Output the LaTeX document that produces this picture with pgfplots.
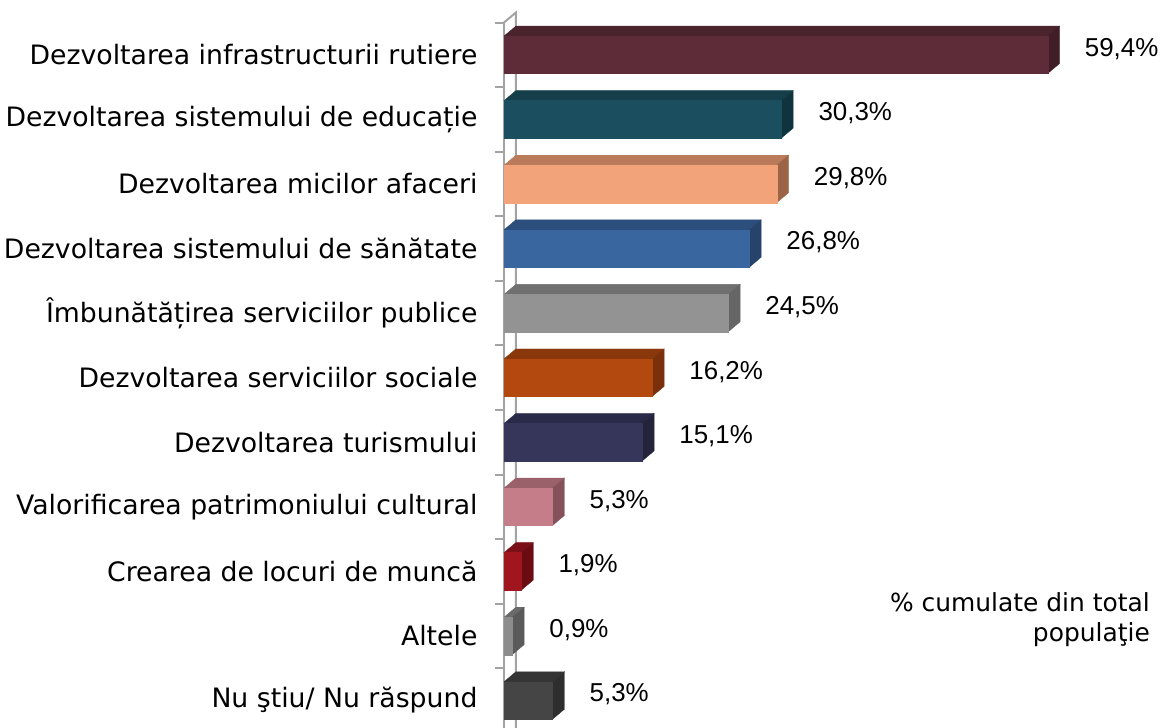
\documentclass[border=0pt]{standalone}
\usepackage{pgfplots}
\pgfplotsset{compat=1.18}
\usepackage{pgfplotstable}
\usepackage{fontspec}
\setmainfont{DejaVu Sans}
\newfontfamily\arial{Liberation Sans}

\definecolor{f1}{HTML}{5E2C38}\definecolor{t1}{HTML}{4A232D}\definecolor{s1}{HTML}{411D27}
\definecolor{f2}{HTML}{1B4F5F}\definecolor{t2}{HTML}{143E4A}\definecolor{s2}{HTML}{10343E}
\definecolor{f3}{HTML}{F2A379}\definecolor{t3}{HTML}{B97B5A}\definecolor{s3}{HTML}{9C6446}
\definecolor{f4}{HTML}{3A66A0}\definecolor{t4}{HTML}{2C4E7C}\definecolor{s4}{HTML}{27436B}
\definecolor{f5}{HTML}{939393}\definecolor{t5}{HTML}{707070}\definecolor{s5}{HTML}{656565}
\definecolor{f6}{HTML}{B4490F}\definecolor{t6}{HTML}{8A380B}\definecolor{s6}{HTML}{7A300A}
\definecolor{f7}{HTML}{353659}\definecolor{t7}{HTML}{292A47}\definecolor{s7}{HTML}{23243C}
\definecolor{f8}{HTML}{C47D89}\definecolor{t8}{HTML}{9A616B}\definecolor{s8}{HTML}{85525C}
\definecolor{f9}{HTML}{A1151F}\definecolor{t9}{HTML}{7C1018}\definecolor{s9}{HTML}{6A0C12}
\definecolor{f10}{HTML}{8C8C8C}\definecolor{t10}{HTML}{6A6A6A}\definecolor{s10}{HTML}{5A5A5A}
\definecolor{f11}{HTML}{454545}\definecolor{t11}{HTML}{353535}\definecolor{s11}{HTML}{2E2E2E}
\definecolor{wall}{HTML}{A3A3A3}

\pgfplotstableread{
i v lab
0 59.4 59,4
1 30.3 30,3
2 29.8 29,8
3 26.8 26,8
4 24.5 24,5
5 16.2 16,2
6 15.1 15,1
7 5.3 5,3
8 1.9 1,9
9 0.9 0,9
10 5.3 5,3
}\datatable

\def\hh{0.29}
\def\dx{1.3}
\def\dy{0.155}
\newcommand\tdbar[5]{%
 \pgfmathsetmacro\ya{#1-\hh}%
 \pgfmathsetmacro\yb{#1+\hh}%
 \pgfmathsetmacro\yc{#1-\hh-\dy}%
 \pgfmathsetmacro\yd{#1+\hh-\dy}%
 \pgfmathsetmacro\xa{#2+\dx}%
 \edef\doit{%
  \noexpand\addplot[fill=#4,draw=#4,line width=0.3bp] coordinates {(0,\ya) (#2,\ya) (\xa,\yc) (\dx,\yc)} -- cycle;
  \noexpand\addplot[fill=#5,draw=#5,line width=0.3bp] coordinates {(#2,\ya) (\xa,\yc) (\xa,\yd) (#2,\yb)} -- cycle;
  \noexpand\addplot[fill=#3,draw=#3,line width=0.3bp] coordinates {(0,\ya) (#2,\ya) (#2,\yb) (0,\yb)} -- cycle;
 }\doit}

\begin{document}
\begin{tikzpicture}
\begin{axis}[
  x={(9.153bp,0bp)}, y={(0bp,-64.57bp)},
  xmin=0, xmax=60, ymin=-0.5, ymax=10.5,
  clip=false,
  axis x line=none,
  axis y line*=left,
  y axis line style={draw=wall, line width=2bp},
  ytick={0,...,10},
  yticklabels={Dezvoltarea infrastructurii rutiere,
    Dezvoltarea sistemului de educație,
    Dezvoltarea micilor afaceri,
    Dezvoltarea sistemului de sănătate,
    Îmbunătățirea serviciilor publice,
    Dezvoltarea serviciilor sociale,
    Dezvoltarea turismului,
    Valorificarea patrimoniului cultural,
    Crearea de locuri de muncă,
    Altele,
    Nu ştiu/ Nu răspund},
  minor ytick={-0.5,0.5,...,10.5},
  major tick length=0pt,
  minor tick length=9bp,
  tick align=outside,
  tick style={draw=wall, line width=2bp},
  yticklabel style={font=\fontsize{26.8}{30}\selectfont, anchor=east, xshift=-23bp},
]
\addplot[draw=wall, line width=2bp] coordinates {(1.3,10.6) (1.3,-0.655) (0,-0.5)};
\tdbar{0}{59.4}{f1}{t1}{s1}
\tdbar{1}{30.3}{f2}{t2}{s2}
\tdbar{2}{29.8}{f3}{t3}{s3}
\tdbar{3}{26.8}{f4}{t4}{s4}
\tdbar{4}{24.5}{f5}{t5}{s5}
\tdbar{5}{16.2}{f6}{t6}{s6}
\tdbar{6}{15.1}{f7}{t7}{s7}
\tdbar{7}{5.3}{f8}{t8}{s8}
\tdbar{8}{1.9}{f9}{t9}{s9}
\tdbar{9}{0.9}{f10}{t10}{s10}
\tdbar{10}{5.3}{f11}{t11}{s11}
\addplot[draw=none, mark=none, nodes near coords={\pgfplotspointmeta\%}, point meta=explicit symbolic,
  every node near coord/.append style={anchor=west, xshift=37bp, yshift=6bp, inner sep=0pt,
  font=\arial\fontsize{26}{30}\selectfont, text=black}]
  table[x=v, y=i, meta=lab] {\datatable};
\coordinate (O) at (axis cs:0,0);
\end{axis}
\node[anchor=north east, align=right, inner sep=0pt, font=\fontsize{25}{30}\selectfont]
  at ([xshift=646bp, yshift=-538bp]O) {\% cumulate din total\\populaţie};
\pgfresetboundingbox
\path[shift={(O)}] (-504bp,54.8bp) rectangle (658bp,-673.2bp);
\end{tikzpicture}
\end{document}
